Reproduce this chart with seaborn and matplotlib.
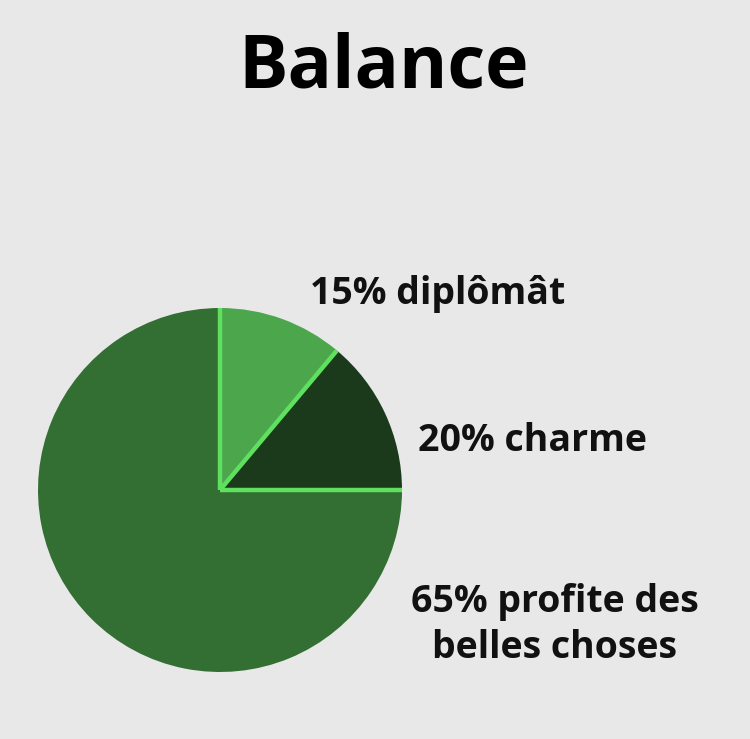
import numpy as np
import matplotlib
matplotlib.use('Agg')
import matplotlib.pyplot as plt
import seaborn as sns

# Données (parts, en degrés -> pourcentage)
parts = ['diplômât', 'charme', 'profite des belles choses']
valeurs = [11.1, 13.9, 75.0]
etiquettes = ['15% diplômât', '20% charme', '65% profite des\nbelles choses']
couleurs = ['#4ca64c', '#1b3a1b', '#336e33']

sns.set_style('white')
plt.rcParams['font.family'] = ['Open Sans', 'DejaVu Sans']

bg = '#e8e8e8'
fig = plt.figure(figsize=(7.5, 7.39), dpi=100, facecolor=bg)
ax = fig.add_axes([38 / 750, 67 / 739, 364 / 750, 364 / 739])
ax.set_facecolor(bg)

ax.pie(valeurs, colors=couleurs, startangle=90, counterclock=False,
       radius=1, wedgeprops=dict(linewidth=0))

# Traits vert clair le long des bords droits des deux petites parts
angles = 90 - 360 * np.cumsum([0] + valeurs[:2]) / sum(valeurs)
for a in angles:
    t = np.deg2rad(a)
    ax.plot([0, np.cos(t)], [0, np.sin(t)], color='#5fe05f', lw=3.2,
            solid_capstyle='butt')

ax.set_xlim(-1, 1)
ax.set_ylim(-1, 1)
ax.set_aspect('equal')
ax.axis('off')

fig.text(384 / 750, 1 - 68 / 739, 'Balance', ha='center', va='center',
         fontsize=53, fontweight='bold', color='black')

fig.text(310 / 750, 1 - 294 / 739, etiquettes[0], ha='left', va='center',
         fontsize=27, fontweight='bold', color='#111111')
fig.text(418 / 750, 1 - 441 / 739, etiquettes[1], ha='left', va='center',
         fontsize=27, fontweight='bold', color='#111111')
fig.text(555 / 750, 1 - 625 / 739, etiquettes[2], ha='center', va='center',
         fontsize=27, fontweight='bold', color='#111111', linespacing=1.3,
         multialignment='center')

fig.savefig('out.png', dpi=100, facecolor=bg)
